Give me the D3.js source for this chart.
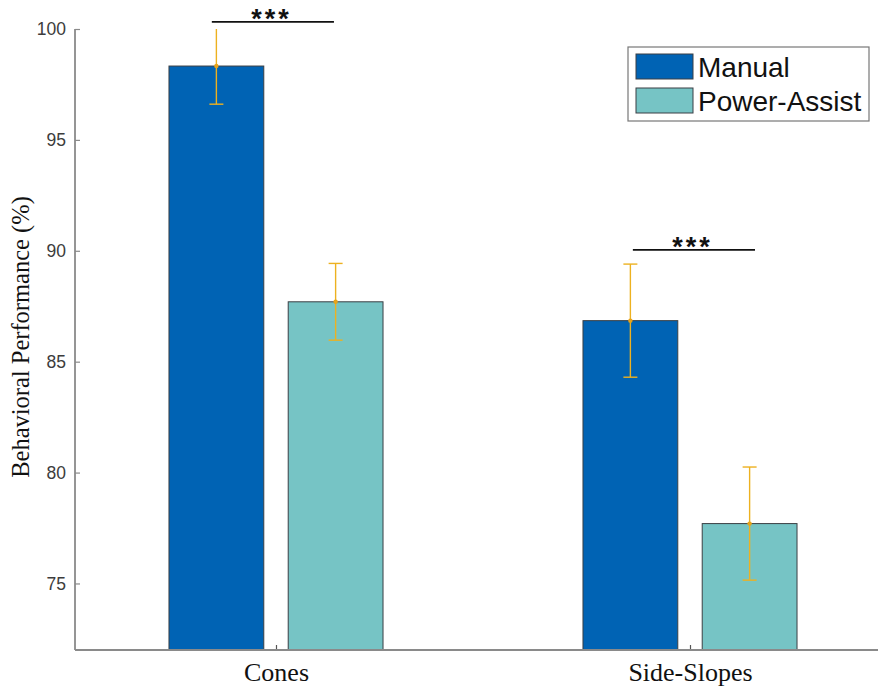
<!DOCTYPE html>
<html>
<head>
<meta charset="utf-8">
<script src="https://cdn.jsdelivr.net/npm/d3@7"></script>
<style>
  body { margin: 0; background: #fff; }
  svg { display: block; }
</style>
</head>
<body>
<svg id="chart" width="878" height="690"></svg>
<script>
// ---- Data ----
const categories = ["Cones", "Side-Slopes"];
const seriesNames = ["Manual", "Power-Assist"];
const manualMeans = [98.33, 86.85];
const manualErr = [1.72, 2.55];
const powerMeans = [87.70, 77.70];
const powerErr = [1.73, 2.55];
const yTicks = [75, 80, 85, 90, 95, 100];
// significance comparisons: category index, label, bar level
const sigCategory = [0, 1];
const sigLabels = ["***", "***"];
const sigLevels = [100.32, 90.04];

(function () {
const colors = ["#0063B4", "#76C4C5"];
const errColor = "#EDB120";

const svg = d3.select("#chart");
const W = 878;
const mLeft = 75, mTop = 29, mBottom = 650;

const y = d3.scaleLinear().domain([72, 100]).range([mBottom, mTop]);
const x = d3.scaleLinear().domain([0.5145, 2.5]).range([mLeft, 897]);
const offsets = [-0.144, 0.144];
const barW = x(0.229) - x(0);

svg.append("defs").append("clipPath").attr("id", "plotclip")
  .append("rect").attr("x", mLeft).attr("y", mTop).attr("width", W - mLeft).attr("height", mBottom - mTop);

const series = [
  { name: seriesNames[0], means: manualMeans, errs: manualErr, color: colors[0] },
  { name: seriesNames[1], means: powerMeans, errs: powerErr, color: colors[1] }
];

const plot = svg.append("g").attr("clip-path", "url(#plotclip)");

series.forEach((s, si) => {
  plot.append("g").selectAll("rect").data(s.means).join("rect")
    .attr("x", (d, i) => x(i + 1 + offsets[si]) - barW / 2)
    .attr("y", d => y(d))
    .attr("width", barW)
    .attr("height", d => y(72) - y(d))
    .attr("fill", s.color)
    .attr("stroke", "#3a3f44")
    .attr("stroke-width", 1);
});

series.forEach((s, si) => {
  const g = plot.append("g");
  s.means.forEach((m, i) => {
    const cx = x(i + 1 + offsets[si]);
    const e = s.errs[i];
    const cap = 7;
    g.append("line").attr("x1", cx).attr("x2", cx).attr("y1", y(m - e)).attr("y2", y(m + e))
      .attr("stroke", errColor).attr("stroke-width", 1.4);
    [m - e, m + e].forEach(v => {
      g.append("line").attr("x1", cx - cap).attr("x2", cx + cap).attr("y1", y(v)).attr("y2", y(v))
        .attr("stroke", errColor).attr("stroke-width", 1.4);
    });
    g.append("circle").attr("cx", cx).attr("cy", y(m)).attr("r", 2.2).attr("fill", "#E8A317");
  });
});

const axisColor = "#8a8a8a";
const yAxis = d3.axisLeft(y).tickValues(yTicks).tickSize(-5).tickPadding(9);
const gy = svg.append("g").attr("transform", `translate(${mLeft},0)`).call(yAxis);
gy.select(".domain").remove();
gy.selectAll(".tick line").attr("stroke", axisColor).attr("stroke-width", 1.2);
gy.selectAll(".tick text").attr("font-family", "Liberation Sans, Arial, sans-serif")
  .attr("font-size", 17.5).attr("fill", "#3c3c3c");
svg.append("line").attr("x1", mLeft).attr("x2", mLeft).attr("y1", mTop).attr("y2", mBottom)
  .attr("stroke", axisColor).attr("stroke-width", 1.8);

const xAxis = d3.axisBottom(x).tickValues([1, 2]).tickFormat(d => categories[d - 1]).tickSize(-5).tickPadding(13);
const gx = svg.append("g").attr("transform", `translate(0,${mBottom})`).call(xAxis);
gx.select(".domain").remove();
gx.selectAll(".tick line").attr("stroke", "#555").attr("stroke-width", 1.2);
gx.selectAll(".tick text").attr("font-family", "Liberation Serif, Times New Roman, serif")
  .attr("font-size", 26).attr("fill", "#111");
svg.append("line").attr("x1", mLeft).attr("x2", W).attr("y1", mBottom).attr("y2", mBottom)
  .attr("stroke", axisColor).attr("stroke-width", 1.8);

svg.append("text")
  .attr("transform", "translate(29,337) rotate(-90)")
  .attr("text-anchor", "middle")
  .attr("font-family", "Liberation Serif, Times New Roman, serif")
  .attr("font-size", 24.5).attr("fill", "#111")
  .text("Behavioral Performance (%)");

const sigFrom = [-0.155, -0.138];
const sigTo = [0.140, 0.157];
sigCategory.forEach((c, k) => {
  const x1 = x(c + 1 + sigFrom[k]), x2 = x(c + 1 + sigTo[k]);
  const yy = y(sigLevels[k]);
  svg.append("line").attr("x1", x1).attr("x2", x2).attr("y1", yy).attr("y2", yy)
    .attr("stroke", "#111").attr("stroke-width", 1.6);
  svg.append("text").attr("x", (x1 + x2) / 2 - 1.5).attr("y", yy + 6)
    .attr("text-anchor", "middle")
    .attr("font-family", "Liberation Sans, Arial, sans-serif")
    .attr("font-weight", "bold").attr("font-size", 27).attr("letter-spacing", 3)
    .attr("fill", "#111").text(sigLabels[k]);
});

const lg = svg.append("g");
lg.append("rect").attr("x", 628).attr("y", 47).attr("width", 241).attr("height", 74)
  .attr("fill", "#fff").attr("stroke", "#777").attr("stroke-width", 1.2);
series.forEach((s, si) => {
  const yy = 54 + si * 34;
  lg.append("rect").attr("x", 636).attr("y", yy).attr("width", 57).attr("height", 25)
    .attr("fill", s.color).attr("stroke", "#3a3f44").attr("stroke-width", 1);
  lg.append("text").attr("x", 698).attr("y", yy + 23)
    .attr("font-family", "Liberation Sans, Arial, sans-serif")
    .attr("font-size", 28).attr("fill", "#111").text(s.name);
});
})();
</script>
</body>
</html>
